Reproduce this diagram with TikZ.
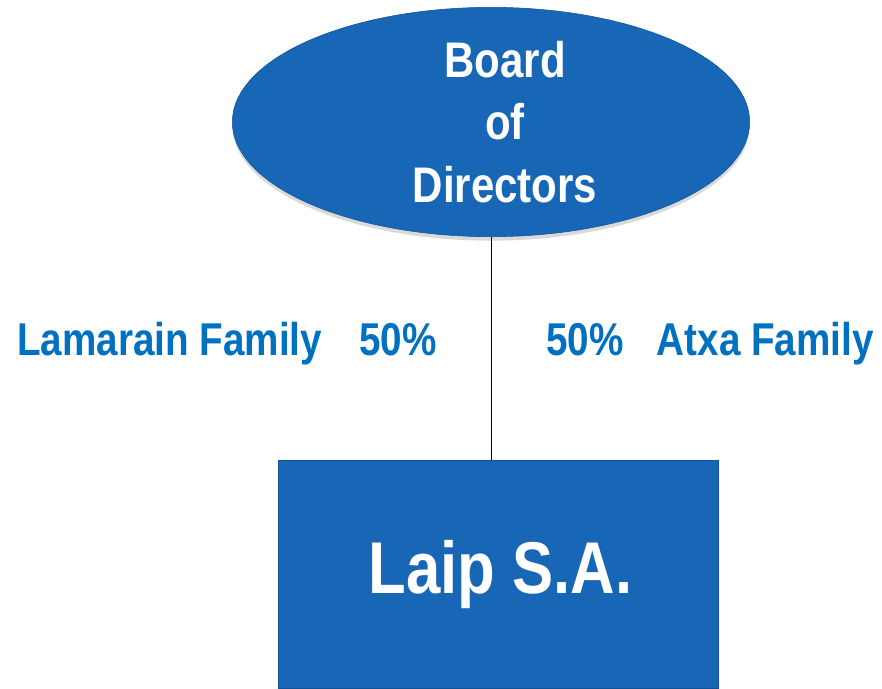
\documentclass[tikz,border=0pt]{standalone}
\usepackage{fontspec}
\newfontfamily\narrowsans{Liberation Sans}[FakeStretch=0.84]
\usepackage{tikz}
\usetikzlibrary{shapes.geometric,shadows}
\definecolor{board blue}{rgb}{0.0941, 0.4000, 0.7137}
\definecolor{board edge}{rgb}{0.0706, 0.3216, 0.6000}
\definecolor{share blue}{rgb}{0.0000, 0.4392, 0.7529}

\begin{document}
\begin{tikzpicture}[x=0.75pt, y=-0.75pt,
		blueshape/.style={draw=board edge, fill=board blue, text=white, inner sep=0pt,
			drop shadow={opacity=0.3, shadow xshift=0pt, shadow yshift=-3pt}},
		share/.style={text=share blue, inner sep=0pt, font=\narrowsans\bfseries\fontsize{34.5}{40}\selectfont}]
		\useasboundingbox (0, 0) rectangle (882, 689);
		% part for the board
		\node[blueshape, ellipse, minimum width=388pt, minimum height=172pt, align=center,
			font=\narrowsans\bfseries\fontsize{37.5}{47}\selectfont] (board) at (491, 122)
			{\hspace*{21pt}Board\\\hspace*{21pt}of\\\hspace*{21pt}Directors};
		% part for the company
		\node[blueshape, rectangle, anchor=north, minimum width=330pt, minimum height=171pt,
			font=\narrowsans\bfseries\fontsize{55}{60}\selectfont] (laip) at (498, 460) {\hspace*{4pt}Laip S.A.};
		% link
		\draw[line width=0.75pt] (board.south) -- (board.south |- laip.north);
		% part for the shares
		\node[share, anchor=base east] (lamarain) at (437, 355) {Lamarain Family\hspace{28pt}50\%};
		\node[share, anchor=base west] (atxa) at (546, 355) {50\%\hspace{25pt}Atxa Family};
	\end{tikzpicture}
\end{document}
